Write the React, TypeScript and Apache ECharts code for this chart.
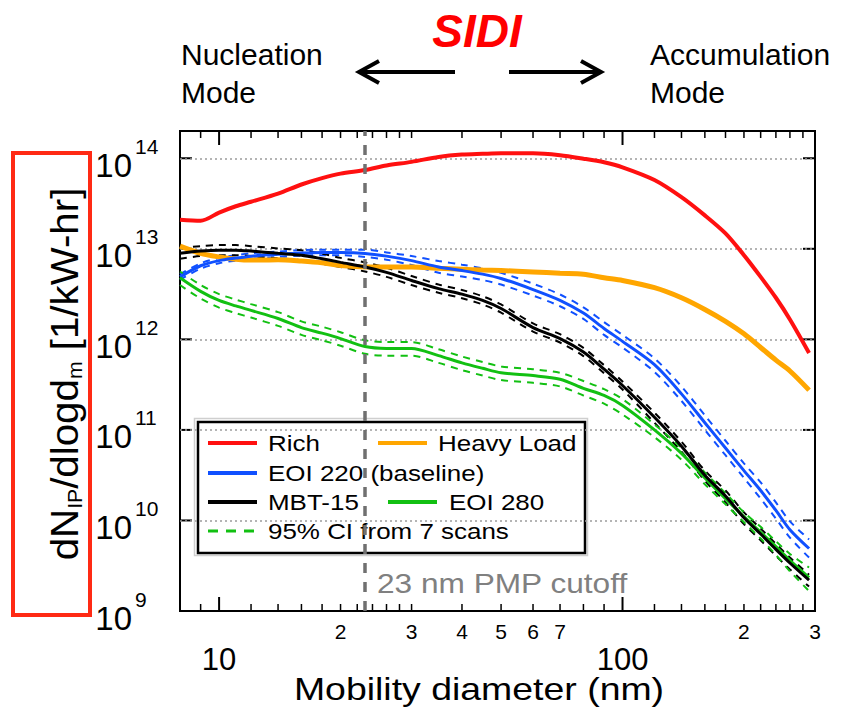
import React, { useEffect, useRef } from 'react';
import * as echarts from 'echarts';

// Mobility diameter grid (nm) shared by every size distribution
const diameters = [8, 9, 10, 11, 12, 14, 16, 18, 20, 23, 26, 30, 35, 40, 45, 50, 60, 70, 80, 90, 100, 120, 140, 160, 180, 200, 220, 240, 260, 290];

// dN/dlogdm [1/kW-hr]
const rich = [2.09e13, 2.04e13, 2.51e13, 2.95e13, 3.31e13, 4.07e13, 5.13e13, 6.03e13, 6.76e13, 7.41e13, 8.32e13, 9.12e13, 1.035e14, 1.1e14, 1.12e14, 1.135e14, 1.135e14, 1.08e14, 9.89e13, 9.02e13, 7.94e13, 5.75e13, 3.72e13, 2.34e13, 1.48e13, 8.51e12, 4.9e12, 2.88e12, 1.66e12, 7.08e11];
const heavyLoad = [1.07e13, 8.91e12, 8.13e12, 7.67e12, 7.5e12, 7.59e12, 7.33e12, 7.0e12, 6.53e12, 6.31e12, 6.31e12, 6.31e12, 6.1e12, 5.96e12, 5.82e12, 5.75e12, 5.56e12, 5.37e12, 5.25e12, 4.79e12, 4.47e12, 3.72e12, 2.88e12, 2.14e12, 1.58e12, 1.15e12, 8.13e11, 5.89e11, 4.47e11, 2.75e11];

const eoi220 = [4.9e12, 6.5e12, 7.4e12, 7.9e12, 8.3e12, 8.7e12, 9.0e12, 9.1e12, 9.1e12, 8.9e12, 8.3e12, 7.4e12, 6.3e12, 5.75e12, 5.25e12, 4.7e12, 3.55e12, 2.7e12, 1.95e12, 1.32e12, 9.5e11, 5.25e11, 2.5e11, 1.2e11, 6.3e10, 3.55e10, 2.14e10, 1.29e10, 7.9e9, 4.9e9];
const eoi220Upper = [5.25e12, 6.92e12, 7.94e12, 8.51e12, 8.91e12, 9.33e12, 9.66e12, 9.77e12, 9.77e12, 9.77e12, 9.12e12, 8.32e12, 7.33e12, 6.68e12, 6.1e12, 5.43e12, 4.12e12, 3.13e12, 2.26e12, 1.55e12, 1.12e12, 6.17e11, 3.02e11, 1.45e11, 7.59e10, 4.27e10, 2.63e10, 1.58e10, 9.77e9, 6.17e9];
const eoi220Lower = [4.57e12, 6.03e12, 6.92e12, 7.41e12, 7.76e12, 8.13e12, 8.41e12, 8.51e12, 8.51e12, 8.13e12, 7.59e12, 6.61e12, 5.43e12, 4.95e12, 4.52e12, 4.03e12, 3.05e12, 2.32e12, 1.68e12, 1.12e12, 8.13e11, 4.37e11, 2.09e11, 1.0e11, 5.25e10, 2.95e10, 1.74e10, 1.05e10, 6.46e9, 3.89e9];

const mbt15 = [8.91e12, 9.44e12, 9.66e12, 9.66e12, 9.44e12, 8.91e12, 8.51e12, 7.76e12, 7.08e12, 6.31e12, 5.5e12, 4.47e12, 3.63e12, 3.16e12, 2.69e12, 2.19e12, 1.35e12, 1.02e12, 7.24e11, 4.68e11, 3.09e11, 1.38e11, 6.61e10, 3.16e10, 1.86e10, 1.07e10, 7.08e9, 4.79e9, 3.39e9, 2.19e9];
const mbt15Upper = [1.02e13, 1.07e13, 1.1e13, 1.1e13, 1.07e13, 1.01e13, 9.66e12, 8.81e12, 7.94e12, 7.08e12, 6.17e12, 5.01e12, 4.03e12, 3.51e12, 2.99e12, 2.43e12, 1.5e12, 1.14e12, 8.04e11, 5.19e11, 3.43e11, 1.55e11, 7.41e10, 3.55e10, 2.14e10, 1.23e10, 8.13e9, 5.5e9, 3.89e9, 2.51e9];
const mbt15Lower = [7.76e12, 8.32e12, 8.51e12, 8.51e12, 8.32e12, 7.85e12, 7.5e12, 6.84e12, 6.31e12, 5.62e12, 4.9e12, 3.98e12, 3.27e12, 2.85e12, 2.43e12, 1.97e12, 1.22e12, 9.23e11, 6.53e11, 4.22e11, 2.79e11, 1.2e11, 5.75e10, 2.75e10, 1.58e10, 9.12e9, 6.03e9, 4.07e9, 2.88e9, 1.86e9];

const eoi280 = [4.79e12, 3.39e12, 2.69e12, 2.34e12, 2.09e12, 1.7e12, 1.35e12, 1.17e12, 1.02e12, 8.32e11, 7.94e11, 7.94e11, 6.61e11, 5.5e11, 4.79e11, 4.27e11, 3.98e11, 3.63e11, 2.88e11, 2.4e11, 1.86e11, 1.0e11, 5.5e10, 2.95e10, 1.74e10, 1.1e10, 7.41e9, 5.13e9, 3.63e9, 2.34e9];
const eoi280Upper = [5.62e12, 3.98e12, 3.16e12, 2.75e12, 2.45e12, 2.0e12, 1.58e12, 1.38e12, 1.2e12, 9.77e11, 9.33e11, 9.33e11, 7.76e11, 6.46e11, 5.62e11, 5.01e11, 4.68e11, 4.27e11, 3.47e11, 2.82e11, 2.19e11, 1.15e11, 6.31e10, 3.39e10, 2.0e10, 1.23e10, 8.51e9, 5.89e9, 4.27e9, 3.02e9];
const eoi280Lower = [3.98e12, 2.82e12, 2.24e12, 1.95e12, 1.74e12, 1.41e12, 1.12e12, 9.77e11, 8.51e11, 6.92e11, 6.61e11, 6.61e11, 5.5e11, 4.57e11, 3.98e11, 3.55e11, 3.31e11, 3.02e11, 2.4e11, 1.95e11, 1.48e11, 8.32e10, 4.68e10, 2.51e10, 1.51e10, 9.55e9, 6.31e9, 4.17e9, 2.75e9, 1.66e9];

const seriesNames = ['Rich', 'Heavy Load', 'EOI 220 (baseline)', 'MBT-15', 'EOI 280'];
const ciLabel = '95% CI from 7 scans';

// Axis ticks and labels
const xMajorTicks = [10, 100];
const xMinorTicks = [9, 12, 14, 16, 18, 20, 22, 24, 26, 28, 30, 40, 50, 60, 70, 80, 90, 120, 140, 160, 180, 200, 220, 240, 260, 280];
const xMinorLabels = [20, 30, 40, 50, 60, 70, 200, 300];
const yDecades = [1e9, 1e10, 1e11, 1e12, 1e13, 1e14];
const cutoffDiameter = 23;

const X_MIN = 8;
const X_MAX = 300;
const Y_MIN = 1e9;
const Y_MAX = 2e14;

const RED = '#ff1010';
const ORANGE = '#ffa600';
const BLUE = '#1050ff';
const BLACK = '#000000';
const GREEN = '#12c012';
const FONT = '"Liberation Sans", Arial, Helvetica, sans-serif';

const pairs = (ys: number[]) => diameters.map((d, i) => [d, ys[i]]);

const lineSeries = (name: string, ys: number[], color: string, width: number, dashed: boolean, z: number, extra: any = {}) => ({
  name,
  type: 'line',
  data: pairs(ys),
  symbol: 'none',
  smooth: 0.3,
  silent: true,
  z,
  lineStyle: { color, width, type: dashed ? [7, 6] : 'solid' },
  ...extra,
});

export default function App() {
  const ref = useRef<HTMLDivElement>(null);

  useEffect(() => {
    if (!ref.current) return;
    const chart = echarts.init(ref.current, null, { renderer: 'svg' });

    const xBase = {
      type: 'log',
      min: X_MIN,
      max: X_MAX,
      axisLine: { show: false },
      axisTick: { show: false },
      splitLine: { show: false },
    };
    const yBase = {
      type: 'log',
      min: Y_MIN,
      max: Y_MAX,
      axisLine: { show: false },
    };

    const legendRows = [
      [
        { name: seriesNames[0], color: RED, dashed: false, lineX: 208, textX: 268 },
        { name: seriesNames[1], color: ORANGE, dashed: false, lineX: 378, textX: 438 },
      ],
      [{ name: seriesNames[2], color: BLUE, dashed: false, lineX: 208, textX: 268 }],
      [
        { name: seriesNames[3], color: BLACK, dashed: false, lineX: 208, textX: 268 },
        { name: seriesNames[4], color: GREEN, dashed: false, lineX: 388, textX: 449 },
      ],
      [{ name: ciLabel, color: GREEN, dashed: true, lineX: 208, textX: 268 }],
    ];
    const rowY = [443, 473, 502, 531];
    const legendItems: any[] = [];
    legendRows.forEach((row, r) => {
      row.forEach((it) => {
        legendItems.push({
          type: 'line',
          shape: { x1: it.lineX, y1: rowY[r], x2: it.lineX + 49, y2: rowY[r] },
          style: { stroke: it.color, lineWidth: it.dashed ? 3 : 4, lineDash: it.dashed ? [10, 8] : null },
        });
        legendItems.push({
          type: 'text',
          x: it.textX,
          y: rowY[r],
          scaleX: 1.18,
          style: { text: it.name, fontSize: 22, fontFamily: FONT, fill: '#000', align: 'left', verticalAlign: 'middle' },
        });
      });
    });

    const baseGraphic: any[] = [
      // header
      {
        type: 'text', x: 477, y: 31,
        style: { text: 'SIDI', font: `italic bold 46px ${FONT}`, fill: '#ff0000', align: 'center', verticalAlign: 'middle' },
      },
      { type: 'text', x: 181, y: 54.6, style: { text: 'Nucleation', fontSize: 30, fontFamily: FONT, fill: '#000', align: 'left', verticalAlign: 'middle' } },
      { type: 'text', x: 181, y: 92.6, style: { text: 'Mode', fontSize: 30, fontFamily: FONT, fill: '#000', align: 'left', verticalAlign: 'middle' } },
      { type: 'text', x: 650, y: 54.6, style: { text: 'Accumulation', fontSize: 30, fontFamily: FONT, fill: '#000', align: 'left', verticalAlign: 'middle' } },
      { type: 'text', x: 650, y: 92.6, style: { text: 'Mode', fontSize: 30, fontFamily: FONT, fill: '#000', align: 'left', verticalAlign: 'middle' } },
      { type: 'line', shape: { x1: 455, y1: 72, x2: 360, y2: 72 }, style: { stroke: '#000', lineWidth: 4 } },
      { type: 'polyline', shape: { points: [[379, 61], [359, 72], [379, 83]] }, style: { stroke: '#000', lineWidth: 4, fill: 'none' } },
      { type: 'line', shape: { x1: 509, y1: 72, x2: 601, y2: 72 }, style: { stroke: '#000', lineWidth: 4 } },
      { type: 'polyline', shape: { points: [[581, 61], [601, 72], [581, 83]] }, style: { stroke: '#000', lineWidth: 4, fill: 'none' } },
      // y-axis title in its box
      { type: 'rect', shape: { x: 13, y: 153, width: 77, height: 462 }, style: { fill: 'none', stroke: '#ff2a14', lineWidth: 4 } },
      {
        type: 'text', x: 64.5, y: 374, rotation: Math.PI / 2, scaleX: 1.06,
        style: {
          text: '{a|dN}{s|IP}{a|/dlogd}{s|m}{a| [1/kW-hr]}',
          align: 'center',
          verticalAlign: 'middle',
          fill: '#000',
          rich: {
            a: { fontSize: 38, fontFamily: FONT, lineHeight: 40, verticalAlign: 'middle', fill: '#000' },
            s: { fontSize: 20, fontFamily: FONT, lineHeight: 17, verticalAlign: 'bottom', fill: '#000' },
          },
        },
      },
      // x-axis title
      {
        type: 'text', x: 479, y: 689, scaleX: 1.17,
        style: { text: 'Mobility diameter (nm)', fontSize: 32, fontFamily: FONT, fill: '#000', align: 'center', verticalAlign: 'middle' },
      },
      // cutoff annotation
      {
        type: 'text', x: 377, y: 583, scaleX: 1.13, z: 50,
        style: { text: '23 nm PMP cutoff', fontSize: 28, fontFamily: FONT, fill: '#808080', align: 'left', verticalAlign: 'middle' },
      },
      // legend
      {
        type: 'group', z: 100,
        children: [
          { type: 'rect', shape: { x: 194.5, y: 418.5, width: 393, height: 137 }, style: { fill: '#fff', stroke: '#cfcfcf', lineWidth: 1.5 } },
          { type: 'rect', shape: { x: 198, y: 422, width: 387, height: 131 }, style: { fill: '#fff', stroke: '#000', lineWidth: 2.5 } },
          ...legendItems,
        ],
      },
    ];

    const option: any = {
      animation: false,
      grid: {
        left: 180,
        right: 27,
        top: 131,
        bottom: 97,
        show: true,
        borderColor: '#000',
        borderWidth: 2,
      },
      xAxis: [
        {
          ...xBase,
          position: 'bottom',
          axisLabel: {
            show: true,
            customValues: xMajorTicks,
            formatter: (v: number) => String(Math.round(v)),
            fontSize: 31,
            fontFamily: FONT,
            color: '#000',
            margin: 48,
            verticalAlign: 'middle',
          },
        },
        {
          ...xBase,
          position: 'bottom',
          axisLabel: {
            show: true,
            customValues: xMinorLabels,
            formatter: (v: number) => String(Math.round(v / Math.pow(10, Math.floor(Math.log10(v) + 1e-9)))),
            fontSize: 21,
            fontFamily: FONT,
            color: '#000',
            margin: 20,
            verticalAlign: 'middle',
          },
        },
      ],
      yAxis: [
        {
          ...yBase,
          position: 'left',
          axisTick: { show: false, customValues: yDecades },
          splitLine: { show: true, showMinLine: false, lineStyle: { color: '#9c9c9c', width: 1.5, type: [2, 3] } },
          axisLabel: {
            show: true,
            customValues: yDecades,
            formatter: () => '10',
            fontSize: 33,
            fontFamily: FONT,
            color: '#000',
            align: 'right',
            margin: 48,
            verticalAlign: 'top',
            lineHeight: 14,
          },
        },
        {
          ...yBase,
          position: 'left',
          axisTick: { show: false },
          splitLine: { show: false },
          axisLabel: {
            show: true,
            customValues: yDecades,
            formatter: (v: number) => String(Math.round(Math.log10(v))),
            fontSize: 21,
            fontFamily: FONT,
            color: '#000',
            align: 'left',
            margin: 45,
            verticalAlign: 'bottom',
            lineHeight: 24,
          },
        },
      ],
      series: [
        lineSeries('EOI 220 CI upper', eoi220Upper, BLUE, 2, true, 2),
        lineSeries('EOI 220 CI lower', eoi220Lower, BLUE, 2, true, 2),
        lineSeries('MBT-15 CI upper', mbt15Upper, BLACK, 2, true, 2),
        lineSeries('MBT-15 CI lower', mbt15Lower, BLACK, 2, true, 2),
        lineSeries('EOI 280 CI upper', eoi280Upper, GREEN, 2, true, 2),
        lineSeries('EOI 280 CI lower', eoi280Lower, GREEN, 2, true, 2),
        lineSeries(seriesNames[1], heavyLoad, ORANGE, 5, false, 3),
        lineSeries(seriesNames[0], rich, RED, 4, false, 3),
        lineSeries(seriesNames[2], eoi220, BLUE, 3, false, 3),
        lineSeries(seriesNames[4], eoi280, GREEN, 3, false, 3),
        lineSeries(seriesNames[3], mbt15, BLACK, 3, false, 3, {
          markLine: {
            silent: true,
            symbol: ['none', 'none'],
            label: { show: false },
            lineStyle: { color: '#707070', width: 3.5, type: [10, 9] },
            data: [{ xAxis: cutoffDiameter }],
          },
        }),
      ],
      graphic: baseGraphic,
    };

    chart.setOption(option);

    // Inside tick marks on all four frame edges, placed with the grid's own scales
    const toPx = (x: number, y: number) => chart.convertToPixel({ gridIndex: 0 }, [x, y]) as number[];
    const ticks: any[] = [];
    const xTick = (v: number, len: number, w: number) => {
      const b = toPx(v, Y_MIN);
      const t = toPx(v, Y_MAX);
      ticks.push({ type: 'line', shape: { x1: b[0], y1: b[1], x2: b[0], y2: b[1] - len }, style: { stroke: '#000', lineWidth: w } });
      ticks.push({ type: 'line', shape: { x1: t[0], y1: t[1], x2: t[0], y2: t[1] + len }, style: { stroke: '#000', lineWidth: w } });
    };
    xMajorTicks.forEach((v) => xTick(v, 14, 2));
    xMinorTicks.forEach((v) => xTick(v, 7, 1.5));
    yDecades.slice(1).forEach((v) => {
      const l = toPx(X_MIN, v);
      const r = toPx(X_MAX, v);
      ticks.push({ type: 'line', shape: { x1: l[0], y1: l[1], x2: l[0] + 12, y2: l[1] }, style: { stroke: '#000', lineWidth: 2 } });
      ticks.push({ type: 'line', shape: { x1: r[0], y1: r[1], x2: r[0] - 12, y2: r[1] }, style: { stroke: '#000', lineWidth: 2 } });
    });
    const valid = ticks.filter((t) => [t.shape.x1, t.shape.y1, t.shape.x2, t.shape.y2].every((n: number) => Number.isFinite(n)));
    if (valid.length) {
      chart.setOption({ ...option, graphic: [...baseGraphic, { type: 'group', z: 60, children: valid }] }, true);
    }

    return () => chart.dispose();
  }, []);

  return (
    <div
      ref={ref}
      style={{ position: 'fixed', left: 0, top: 0, width: 842, height: 708, background: '#fff' }}
    />
  );
}
